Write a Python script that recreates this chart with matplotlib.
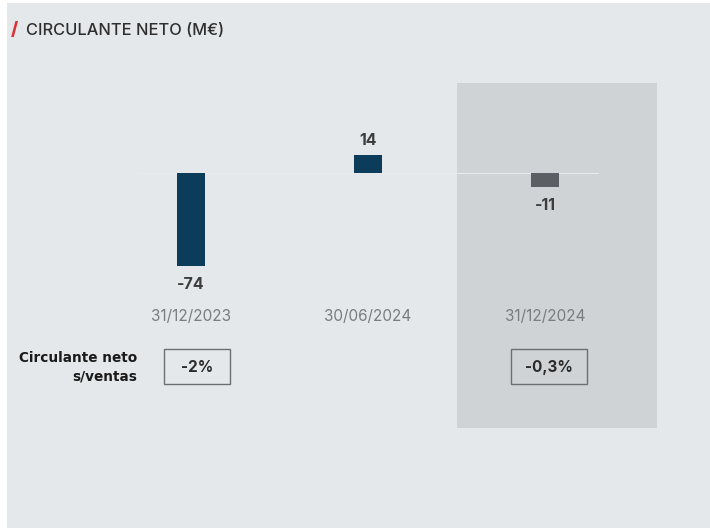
import matplotlib.pyplot as plt
from matplotlib.patches import Rectangle

# Circulante neto (M€) at each reporting date
dates = ["31/12/2023", "30/06/2024", "31/12/2024"]
values = [-74, 14, -11]
bar_colors = ["#0b3d5b", "#0b3d5b", "#5b5f63"]
ratio_labels = ["-2%", None, "-0,3%"]

BG = "#e4e8eb"
SHADE = "#d0d3d6"


def plot_circulante(output_path: str) -> None:
    plt.rcParams["font.family"] = ["Inter", "DejaVu Sans"]

    fig = plt.figure(figsize=(7.1, 5.31), dpi=100)
    fig.patch.set_facecolor("white")

    ax = fig.add_axes([0, 0, 1, 1])
    ax.set_facecolor("none")
    ax.set_xlim(-1.079, 2.932)
    ax.set_ylim(-284.1, 137.3)
    ax.axis("off")

    # light panel behind everything
    ax.add_patch(Rectangle((7 / 710, 3 / 531), 703 / 710, 525 / 531,
                           transform=fig.transFigure, facecolor=BG,
                           edgecolor="none", zorder=0))

    x = list(range(len(dates)))

    # highlighted period
    ax.add_patch(Rectangle((1.503, -202.4), 1.13, 273.8, facecolor=SHADE,
                           edgecolor="none", zorder=1))
    ax.plot([-0.3, 2.3], [0, 0], color="#e9ecee", lw=0.7, zorder=2)

    ax.bar(x, values, width=0.153, color=bar_colors, zorder=3)

    for xi, v in zip(x, values):
        if v >= 0:
            ax.text(xi, v + 6, f"{v}", ha="center", va="bottom",
                    fontsize=11.5, fontweight="bold", color="#3d3d3d")
        else:
            ax.text(xi, v - 8.5, f"{v}", ha="center", va="top",
                    fontsize=11.5, fontweight="bold", color="#3d3d3d")

    for xi, d in zip(x, dates):
        ax.text(xi, -113.5, d, ha="center", va="center", fontsize=11,
                color="#7a7c7e")

    # ratio boxes
    box_w = {0: 0.375, 2: 0.43}
    for xi, lab in zip(x, ratio_labels):
        if lab is None:
            continue
        cx = xi + (197 - 191) / 177 if xi == 0 else xi + (549 - 545) / 177
        w = box_w[xi]
        ax.add_patch(Rectangle((cx - w / 2, -167.5), w, 27.5,
                               facecolor="none", edgecolor="#6e6e6e",
                               lw=1.0, zorder=4))
        ax.text(cx, -154.5, lab, ha="center", va="center", fontsize=11,
                fontweight="bold", color="#2b2b2b", zorder=5)

    fig.text(137 / 710, 1 - 358 / 531, "Circulante neto", ha="right",
             va="center", fontsize=9.8, fontweight="bold", color="#1a1a1a",
             family="DejaVu Sans")
    fig.text(137 / 710, 1 - 377 / 531, "s/ventas", ha="right",
             va="center", fontsize=9.8, fontweight="bold", color="#1a1a1a",
             family="DejaVu Sans")

    # title with red slash
    fig.text(11 / 710, 1 - 31 / 531, "/", ha="left", va="center",
             fontsize=13, fontweight="heavy", color="#d8333a")
    fig.text(26 / 710, 1 - 31 / 531, "CIRCULANTE NETO (M€)", ha="left",
             va="center", fontsize=11.8, fontweight="medium", color="#2e2e2e")

    fig.savefig(output_path, dpi=100)
    plt.close(fig)


if __name__ == "__main__":
    plot_circulante("out.png")
